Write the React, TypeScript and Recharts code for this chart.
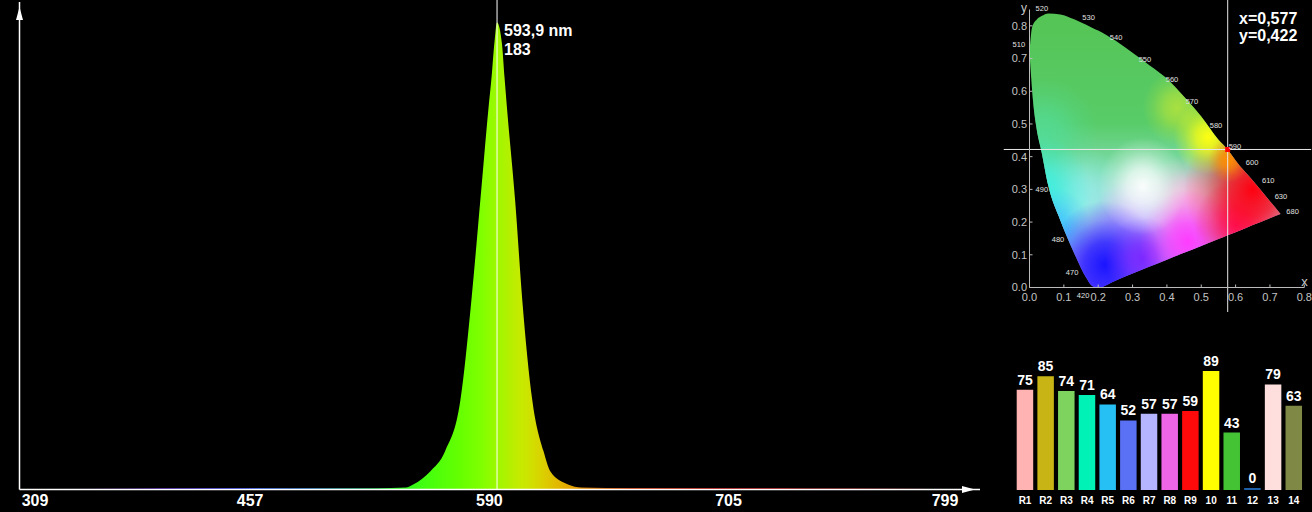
import React from "react";
import {
  AreaChart,
  Area,
  ComposedChart,
  BarChart,
  Bar,
  Cell,
  LabelList,
  XAxis,
  YAxis,
  ReferenceLine,
  ReferenceDot,
} from "recharts";

const FONT = "'Liberation Sans', Arial, Helvetica, sans-serif";

// ---- spectrum (wavelength in nm, relative intensity) ----
const WAVELENGTHS = [
  309, 340, 380, 420, 460, 500, 530, 546, 550, 559, 567, 575, 580.7, 585.3,
  589.6, 591.1, 592.5, 593.9, 596.4, 597.7, 598.9, 603.1, 606.7, 611.7, 617.3,
  620.8, 629.4, 636, 660, 700, 740, 780, 799,
];
const INTENSITY = [
  0, 0.3, 0.5, 0.6, 0.6, 0.5, 0.5, 0.8, 2, 7, 15, 35, 74, 113, 150, 161.5,
  174.6, 183, 174.6, 161.5, 150, 113, 74, 35, 15, 7, 2, 0.8, 0.6, 0.6, 0.5, 0.4,
  0,
];
const NM_TICKS = [309, 457, 590, 705, 799];
const PEAK_NM = 593.9;
const PEAK_VALUE = 183;

// ---- chromaticity (CIE 1931 x,y as drawn) ----
const CIE_X = [
  0, 0.005, 0.01, 0.02, 0.035, 0.055, 0.09, 0.13, 0.165, 0.185, 0.2, 0.25, 0.3,
  0.35, 0.4, 0.45, 0.5, 0.55, 0.577, 0.6, 0.65, 0.7, 0.731,
];
const CIE_UPPER = [
  0.72, 0.78, 0.803, 0.818, 0.83, 0.838, 0.835, 0.82, 0.803, 0.793, 0.786,
  0.755, 0.718, 0.679, 0.639, 0.583, 0.523, 0.452, 0.422, 0.388, 0.327, 0.264,
  0.225,
];
const CIE_LOWER = [
  0.72, 0.64, 0.573, 0.49, 0.415, 0.31, 0.205, 0.105, 0.03, 0.003, 0, 0.021,
  0.043, 0.064, 0.085, 0.106, 0.127, 0.148, 0.16, 0.169, 0.191, 0.212, 0.225,
];
const CIE_TICKS = [0, 0.1, 0.2, 0.3, 0.4, 0.5, 0.6, 0.7, 0.8];
const LOCUS_NAMES = [
  "520", "530", "540", "550", "560", "570", "580", "590", "600", "610", "630",
  "680", "510", "490", "480", "470", "420",
];
const LOCUS_X = [
  0.036, 0.172, 0.252, 0.336, 0.415, 0.473, 0.543, 0.598, 0.648, 0.695, 0.732,
  0.766, -0.031, 0.036, 0.083, 0.124, 0.156,
];
const LOCUS_Y = [
  0.853, 0.826, 0.765, 0.699, 0.635, 0.57, 0.497, 0.433, 0.382, 0.329, 0.28,
  0.234, 0.745, 0.301, 0.148, 0.047, -0.023,
];
const CHROMA_X = 0.577;
const CHROMA_Y = 0.422;

// ---- colour rendering indices ----
const CRI_NAMES = ["R1", "R2", "R3", "R4", "R5", "R6", "R7", "R8", "R9", "10", "11", "12", "13", "14"];
const CRI_VALUES = [75, 85, 74, 71, 64, 52, 57, 57, 59, 89, 43, 0, 79, 63];
const CRI_COLORS = [
  "#ffb3b3", "#c8b414", "#7ed35e", "#00f2b6", "#26c0f5", "#5a70f5", "#b4b4ff",
  "#ee66e6", "#ff0a0a", "#ffff00", "#44c434", "#2060a8", "#ffdede", "#7f8845",
];

// non-linear wavelength axis of the spectrometer
const WARP = 1.68;
const warp = (nm: number) => Math.pow(nm, WARP);
const unwarp = (v: number) => Math.pow(v, 1 / WARP);

const SPEC_LEFT = 19.5;
const SPEC_PAD_L = 15.5;
const SPEC_PAD_R = 35;
const SPEC_RIGHT = 980;

const SPECTRUM_COLORS: [number, string][] = [
  [309, "#000000"], [350, "#1a0033"], [400, "#2a0080"], [450, "#2030c8"],
  [490, "#1a70d0"], [520, "#10b070"], [540, "#22f022"], [555, "#40ff10"],
  [575, "#66ff00"], [586, "#80ff00"], [594, "#9ef800"], [600, "#b4f000"],
  [606, "#c6ea00"], [612, "#d2de00"], [618, "#dccc00"], [625, "#e2b600"],
  [632, "#e4a000"], [638, "#d88000"], [660, "#c03000"], [700, "#a00000"],
  [760, "#700000"], [799, "#300000"],
];

const spectrumData = WAVELENGTHS.map((nm, i) => ({ nm, value: INTENSITY[i] }));
const cieData = CIE_X.map((x, i) => ({ x, band: [CIE_LOWER[i], CIE_UPPER[i]] }));
const criData = CRI_NAMES.map((name, i) => ({ name, value: CRI_VALUES[i] }));

const BOX_W = Math.max(...CIE_X);
const BOX_H = Math.max(...CIE_UPPER);
const GLOWS = [
  { id: "mint", x: 0.04, y: 0.46, r: 0.16, color: "#52dc98", a: 0.9 },
  { id: "paleCyan", x: 0.15, y: 0.27, r: 0.14, color: "#90f0e8", a: 0.9 },
  { id: "cyan", x: 0.03, y: 0.29, r: 0.15, color: "#38f0e0", a: 1 },
  { id: "sky", x: 0.07, y: 0.18, r: 0.11, color: "#38c4ff", a: 1 },
  { id: "lavender", x: 0.3, y: 0.18, r: 0.13, color: "#b8a0ff", a: 0.9 },
  { id: "blue", x: 0.22, y: 0.07, r: 0.17, color: "#1a14ff", a: 1 },
  { id: "violet", x: 0.33, y: 0.09, r: 0.11, color: "#7a28ff", a: 1 },
  { id: "paleRose", x: 0.46, y: 0.27, r: 0.12, color: "#ffb8e0", a: 0.9 },
  { id: "magenta", x: 0.46, y: 0.14, r: 0.14, color: "#ff3cff", a: 1 },
  { id: "pink", x: 0.6, y: 0.19, r: 0.12, color: "#ff1a80", a: 1 },
  { id: "red", x: 0.65, y: 0.3, r: 0.2, color: "#ff0010", a: 1 },
  { id: "lime", x: 0.43, y: 0.55, r: 0.1, color: "#a8e040", a: 1 },
  { id: "yellow", x: 0.52, y: 0.46, r: 0.1, color: "#ffff10", a: 1 },
  { id: "orange", x: 0.58, y: 0.39, r: 0.06, color: "#ff8c00", a: 1 },
  { id: "white", x: 0.33, y: 0.31, r: 0.13, color: "#ffffff", a: 0.95 },
];

const comma = (v: number, d: number) => v.toFixed(d).replace(".", ",");

const PeakLabel = (props: any) => {
  const vb = props.viewBox || {};
  const x = (vb.x || 0) + 7;
  const y = vb.y || 0;
  return (
    <g>
      <text x={x} y={y + 14} fill="#fff" fontSize={16} fontWeight="bold" fontFamily={FONT}>
        {`${comma(PEAK_NM, 1)} nm`}
      </text>
      <text x={x} y={y + 33} fill="#fff" fontSize={16} fontWeight="bold" fontFamily={FONT}>
        {PEAK_VALUE}
      </text>
    </g>
  );
};

const SpectrumChart = () => {
  const w0 = warp(309);
  const w1 = warp(799);
  return (
    <AreaChart
      width={1000}
      height={512}
      data={spectrumData}
      margin={{ top: 2, right: 1000 - SPEC_RIGHT, bottom: 0, left: 0 }}
    >
      <defs>
        <linearGradient
          id="spectrumFill"
          gradientUnits="userSpaceOnUse"
          x1={SPEC_LEFT + SPEC_PAD_L}
          y1={0}
          x2={SPEC_RIGHT - SPEC_PAD_R}
          y2={0}
        >
          {SPECTRUM_COLORS.map(([nm, c]) => (
            <stop key={nm} offset={(warp(nm) - w0) / (w1 - w0)} stopColor={c} />
          ))}
        </linearGradient>
        <marker
          id="axisArrow"
          viewBox="-20 -10 20 20"
          markerWidth={20}
          markerHeight={20}
          markerUnits="userSpaceOnUse"
          refX={0}
          refY={0}
          orient="auto-start-reverse"
        >
          <path d="M-18,-3.5 L-5,0 L-18,3.5 Z" fill="#fff" />
        </marker>
      </defs>
      <Area
        type="monotone"
        dataKey="value"
        stroke="none"
        fill="url(#spectrumFill)"
        fillOpacity={1}
        isAnimationActive={false}
      />
      <XAxis
        type="number"
        dataKey={(d: any) => warp(d.nm)}
        domain={[w0, w1]}
        ticks={NM_TICKS.map(warp)}
        tickFormatter={(v: number) => String(Math.round(unwarp(v)))}
        interval={0}
        padding={{ left: SPEC_PAD_L, right: SPEC_PAD_R }}
        height={22.5}
        tickLine={false}
        tickSize={0}
        tickMargin={5}
        axisLine={{ stroke: "#fff", strokeWidth: 1.5, markerEnd: "url(#axisArrow)" }}
        tick={{ fill: "#fff", fontSize: 16, fontWeight: 700, fontFamily: FONT }}
      />
      <YAxis
        domain={[0, 191]}
        width={SPEC_LEFT}
        tick={false}
        tickLine={false}
        axisLine={{ stroke: "#fff", strokeWidth: 1.5, markerStart: "url(#axisArrow)" }}
      />
      <ReferenceLine
        segment={[
          { x: warp(PEAK_NM), y: 0 },
          { x: warp(PEAK_NM), y: 192 },
        ]}
        stroke="#fff"
        strokeWidth={1}
        ifOverflow="visible"
      />
      <ReferenceDot
        x={warp(PEAK_NM)}
        y={PEAK_VALUE}
        r={0}
        stroke="none"
        fill="none"
        ifOverflow="visible"
        label={PeakLabel}
      />
    </AreaChart>
  );
};

const CieChart = () => (
  <ComposedChart
    width={312}
    height={320}
    data={cieData}
    margin={{ top: 9.5, right: 7.7, bottom: 0, left: 0 }}
  >
    <defs>
      <linearGradient id="cieBase" x1={0} y1={0} x2={0} y2={1}>
        <stop offset={0} stopColor="#55c455" />
        <stop offset={0.4} stopColor="#58cc68" />
        <stop offset={0.58} stopColor="#80dcb0" />
        <stop offset={0.75} stopColor="#c8c8f0" />
        <stop offset={1} stopColor="#9a70ff" />
      </linearGradient>
      {GLOWS.map((g) => (
        <radialGradient
          key={g.id}
          id={`glow-${g.id}`}
          cx={g.x / BOX_W}
          cy={(BOX_H - g.y) / BOX_H}
          r={g.r / BOX_W}
        >
          <stop offset={0} stopColor={g.color} stopOpacity={g.a} />
          <stop offset={0.35} stopColor={g.color} stopOpacity={0.75 * g.a} />
          <stop offset={0.7} stopColor={g.color} stopOpacity={0.28 * g.a} />
          <stop offset={1} stopColor={g.color} stopOpacity={0} />
        </radialGradient>
      ))}
    </defs>
    <Area
      type="monotone"
      dataKey="band"
      stroke="none"
      fill="url(#cieBase)"
      fillOpacity={1}
      isAnimationActive={false}
    />
    {GLOWS.map((g) => (
      <Area
        key={g.id}
        type="monotone"
        dataKey="band"
        stroke="none"
        fill={`url(#glow-${g.id})`}
        fillOpacity={1}
        isAnimationActive={false}
      />
    ))}
    <XAxis
      type="number"
      dataKey="x"
      domain={[0, 0.8]}
      ticks={CIE_TICKS}
      interval={0}
      tickFormatter={(v: number) => v.toFixed(1)}
      height={32.5}
      tickSize={-3}
      tickMargin={8.5}
      stroke="#bbb"
      tick={{ fill: "#c4c4c4", fontSize: 11, fontFamily: FONT }}
    />
    <YAxis
      type="number"
      domain={[0, 0.85]}
      ticks={CIE_TICKS}
      interval={0}
      tickFormatter={(v: number) => v.toFixed(1)}
      width={29.5}
      tickSize={-3}
      tickMargin={5.5}
      stroke="#bbb"
      tick={{ fill: "#c4c4c4", fontSize: 11, fontFamily: FONT }}
    />
    {LOCUS_NAMES.map((name, i) => (
      <ReferenceDot
        key={name}
        x={LOCUS_X[i]}
        y={LOCUS_Y[i]}
        r={0}
        stroke="none"
        fill="none"
        ifOverflow="visible"
        label={{
          value: name,
          position: "center",
          fill: "#e0e0e0",
          fontSize: 7.5,
          fontFamily: FONT,
        }}
      />
    ))}
    <ReferenceLine
      segment={[
        { x: CHROMA_X, y: -0.075 },
        { x: CHROMA_X, y: 0.88 },
      ]}
      stroke="#e8e8e8"
      strokeWidth={1}
      ifOverflow="visible"
    />
    <ReferenceLine
      segment={[
        { x: -0.075, y: CHROMA_Y },
        { x: 0.82, y: CHROMA_Y },
      ]}
      stroke="#e8e8e8"
      strokeWidth={1}
      ifOverflow="visible"
    />
    <ReferenceDot
      x={CHROMA_X}
      y={CHROMA_Y}
      r={2.5}
      ifOverflow="visible"
      shape={(p: any) => (
        <rect x={p.cx - 2.5} y={p.cy - 2.5} width={5} height={5} fill="#ff0000" />
      )}
    />
    <text x={24} y={11.5} fill="#c8c8c8" fontSize={12} fontFamily={FONT} textAnchor="middle">
      y
    </text>
    <text x={304.5} y={286} fill="#c8c8c8" fontSize={13} fontFamily={FONT} textAnchor="middle">
      x
    </text>
    <text x={239} y={24} fill="#fff" fontSize={16} fontWeight="bold" fontFamily={FONT}>
      {`x=${comma(CHROMA_X, 3)}`}
    </text>
    <text x={239} y={41} fill="#fff" fontSize={16} fontWeight="bold" fontFamily={FONT}>
      {`y=${comma(CHROMA_Y, 3)}`}
    </text>
  </ComposedChart>
);

const CriChart = () => (
  <BarChart
    width={312}
    height={172}
    data={criData}
    margin={{ top: 16.3, right: 7.8, bottom: 0, left: 14.7 }}
  >
    <XAxis
      dataKey="name"
      height={22}
      interval={0}
      axisLine={false}
      tickLine={false}
      tickSize={0}
      tickMargin={7}
      tick={{ fill: "#fff", fontSize: 10, fontWeight: 700, fontFamily: FONT }}
    />
    <YAxis hide domain={[0, 100]} />
    <Bar dataKey="value" barSize={16.5} minPointSize={2} isAnimationActive={false}>
      {criData.map((d, i) => (
        <Cell key={d.name} fill={CRI_COLORS[i]} />
      ))}
      <LabelList
        dataKey="value"
        position="top"
        fill="#fff"
        fontSize={14}
        fontWeight={700}
        fontFamily={FONT}
      />
    </Bar>
  </BarChart>
);

export default function App() {
  return (
    <div
      style={{
        position: "fixed",
        left: 0,
        top: 0,
        width: 1312,
        height: 512,
        background: "#000",
        overflow: "hidden",
      }}
    >
      <div style={{ position: "absolute", left: 0, top: 0 }}>
        <SpectrumChart />
      </div>
      <div style={{ position: "absolute", left: 1000, top: 0 }}>
        <CieChart />
      </div>
      <div style={{ position: "absolute", left: 1000, top: 340 }}>
        <CriChart />
      </div>
    </div>
  );
}
